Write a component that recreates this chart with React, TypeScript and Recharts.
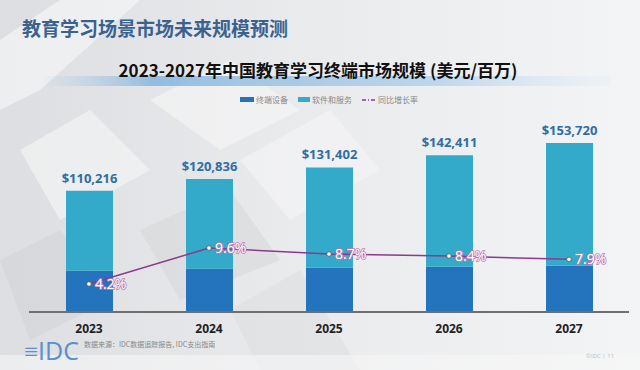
import { ComposedChart, Bar, Line, XAxis, YAxis, LabelList } from "recharts";

const years = ["2023", "2024", "2025", "2026", "2027"];
const totals = [110216, 120836, 131402, 142411, 153720];
const devices = [37600, 39400, 40300, 41200, 42100];
const software = [72616, 81436, 91102, 101211, 111620];
const growth = [4.2, 9.6, 8.7, 8.4, 7.9];

const data = years.map((year, i) => ({
  year,
  devices: devices[i],
  software: software[i],
  total: totals[i],
  growth: growth[i],
}));

const DARK = "#2474bd";
const LIGHT = "#33aac9";
const LINE = "#8b3a8f";

const fmt = (v: number) => "$" + v.toLocaleString("en-US");

const TotalLabel = (props: any) => {
  const { x, width, y, value } = props;
  return (
    <text
      x={x + width / 2}
      y={y - 8}
      textAnchor="middle"
      fill="#2f6ea5"
      fontSize={13}
      fontWeight={700}
      fontFamily="Open Sans"
    >
      {fmt(value)}
    </text>
  );
};

const GrowthLabel = (props: any) => {
  const { x, y, value } = props;
  return (
    <text
      x={x + 6}
      y={y + 5}
      fill="#ffffff"
      stroke="#c27ab4"
      strokeWidth={1.6}
      paintOrder="stroke"
      fontSize={14}
      fontFamily="Open Sans"
    >
      {value}%
    </text>
  );
};

const GrowthDot = (props: any) => {
  const { cx, cy } = props;
  return <circle cx={cx} cy={cy} r={2.3} fill="#ffffff" stroke="#555" strokeWidth={0.8} />;
};

const YearTick = (props: any) => {
  const { x, y, payload } = props;
  return (
    <text
      x={x}
      y={y + 13}
      textAnchor="middle"
      fill="#222"
      fontSize={12}
      fontWeight={700}
      fontFamily="Open Sans"
    >
      {payload.value}
    </text>
  );
};

const Background = () => (
  <svg width={640} height={370} style={{ position: "absolute", left: 0, top: 0 }}>
    <defs>
      <linearGradient id="bg" x1="0" y1="0" x2="1" y2="0">
        <stop offset="0" stopColor="#dcdee1" />
        <stop offset="0.45" stopColor="#e9eaec" />
        <stop offset="1" stopColor="#f3f4f5" />
      </linearGradient>
      <linearGradient id="band" x1="0" y1="0" x2="1" y2="0">
        <stop offset="0" stopColor="#9cc7e6" stopOpacity="0" />
        <stop offset="0.2" stopColor="#7fb2dc" stopOpacity="0.8" />
        <stop offset="0.7" stopColor="#a9cde9" stopOpacity="0.7" />
        <stop offset="1" stopColor="#d9e9f5" stopOpacity="0.2" />
      </linearGradient>
    </defs>
    <rect width={640} height={370} fill="url(#bg)" />
    <polygon points="0,40 60,0 140,0 40,90 0,110" fill="#f4f5f6" opacity={0.7} />
    <polygon points="150,100 230,60 300,110 220,150" fill="#f6f6f7" opacity={0.6} />
    <polygon points="20,150 90,110 150,170 60,220" fill="#f2f3f4" opacity={0.7} />
    <polygon points="240,160 330,110 380,170 290,220" fill="#f5f5f6" opacity={0.6} />
    <polygon points="140,230 230,190 280,260 180,300" fill="#d3d5d8" opacity={0.5} />
    <polygon points="0,260 60,230 110,300 30,340" fill="#d0d2d5" opacity={0.5} />
    <polygon points="230,310 300,270 360,370 260,370" fill="#d7d9dc" opacity={0.4} />
    <rect x={40} y={76} width={570} height={10} fill="url(#band)" />
    <rect x={0} y={355} width={640} height={15} fill="#f6f6f7" opacity={0.6} />
  </svg>
);

const Legend = () => (
  <div
    style={{
      position: "absolute",
      left: 240,
      top: 94,
      display: "flex",
      alignItems: "center",
      fontSize: 8,
      color: "#888",
      fontFamily: "Noto Sans CJK SC",
    }}
  >
    <span style={{ width: 14, height: 5, background: DARK, marginRight: 2 }} />
    <span style={{ marginRight: 10 }}>终端设备</span>
    <span style={{ width: 12, height: 5, background: LIGHT, marginRight: 2 }} />
    <span style={{ marginRight: 10 }}>软件和服务</span>
    <svg width={15} height={6} style={{ marginRight: 1 }}>
      <line x1={0} y1={3} x2={15} y2={3} stroke={LINE} strokeWidth={1.5} strokeDasharray="4 2 1 2" />
    </svg>
    <span>同比增长率</span>
  </div>
);

export default function App() {
  return (
    <div
      style={{
        position: "fixed",
        left: 0,
        top: 0,
        width: 640,
        height: 370,
        overflow: "hidden",
        fontFamily: "Noto Sans CJK SC",
      }}
    >
      <Background />
      <div
        style={{
          position: "absolute",
          left: 22,
          top: 14,
          fontSize: 19,
          fontWeight: 700,
          color: "#3a628f",
        }}
      >
        教育学习场景市场未来规模预测
      </div>
      <div
        style={{
          position: "absolute",
          left: 0,
          width: 636,
          top: 57,
          textAlign: "center",
          fontSize: 17,
          fontWeight: 700,
          color: "#111",
        }}
      >
        2023-2027年中国教育学习终端市场规模 (美元/百万)
      </div>
      <Legend />
      <div style={{ position: "absolute", left: 0, top: 0 }}>
        <ComposedChart
          width={640}
          height={370}
          data={data}
          margin={{ top: 136, right: 11, left: 29, bottom: 28 }}
          barCategoryGap={0}
        >
          <XAxis
            dataKey="year"
            axisLine={{ stroke: "#6f6f6f", strokeWidth: 2 }}
            tickLine={false}
            tick={<YearTick />}
            height={30}
          />
          <YAxis yAxisId="left" domain={[0, 160000]} hide />
          <YAxis yAxisId="right" orientation="right" domain={[0, 26.4]} hide />
          <Bar yAxisId="left" dataKey="devices" stackId="a" fill={DARK} barSize={47} isAnimationActive={false} />
          <Bar yAxisId="left" dataKey="software" stackId="a" fill={LIGHT} barSize={47} isAnimationActive={false}>
            <LabelList dataKey="total" content={<TotalLabel />} />
          </Bar>
          <Line
            yAxisId="right"
            dataKey="growth"
            stroke={LINE}
            strokeWidth={1.5}
            dot={<GrowthDot />}
            activeDot={false}
            isAnimationActive={false}
          >
            <LabelList dataKey="growth" content={<GrowthLabel />} />
          </Line>
        </ComposedChart>
      </div>
      <div
        style={{
          position: "absolute",
          left: 24,
          top: 336,
          fontSize: 25,
          color: "#5a8fcf",
          fontFamily: "Open Sans",
          fontWeight: 400,
          lineHeight: "28px",
        }}
      >
        ≡IDC
      </div>
      <div style={{ position: "absolute", left: 84, top: 339, fontSize: 7, color: "#888" }}>
        数据来源：IDC数据追踪报告, IDC支出指南
      </div>
      <div style={{ position: "absolute", left: 586, top: 352, fontSize: 6, color: "#bbb", fontFamily: "Open Sans" }}>
        ©IDC | 11
      </div>
    </div>
  );
}
